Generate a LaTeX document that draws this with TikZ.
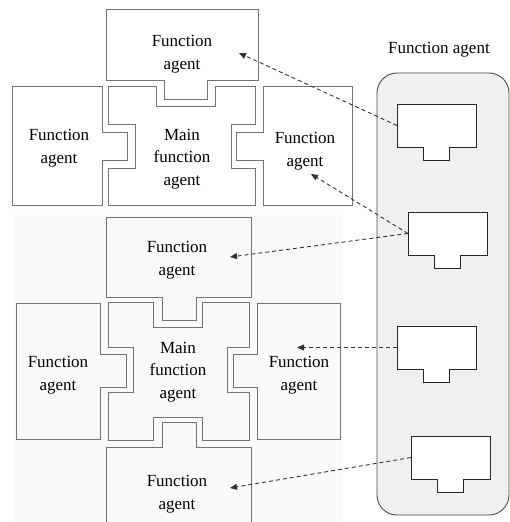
\documentclass[tikz,border=0pt]{standalone}
\usepackage{fontspec}
\setmainfont{Liberation Serif}
\usetikzlibrary{arrows.meta}
\begin{document}
\begin{tikzpicture}[x=1pt,y=-1pt,
  agentline/.style={draw=black!55, line width=0.9pt},
  lbl/.style={align=center, font=\fontsize{17}{22.5}\selectfont, inner sep=0pt},
  ministyle/.style={draw=black!85, line width=0.9pt, fill=white},
  link/.style={draw=black!80, line width=0.9pt, dash pattern=on 4pt off 3pt, -{Triangle[length=7pt,width=6pt]}},
  miniagent/.pic={
    \draw[ministyle] (0,0) -- (79,0) -- (79,43) -- (52,43) -- (52,56) -- (26,56) -- (26,43) -- (0,43) -- cycle;
    \coordinate (-w) at (0,21.5);
  }]
\clip (0,0) rectangle (510,522);
\useasboundingbox (0,0) rectangle (510,522);
\fill[white] (0,0) rectangle (510,522);
% faint background of the lower group
\fill[black!2] (13,215) rectangle (343,522);
% right panel
\draw[draw=black!70, line width=0.9pt, fill=black!6, rounded corners=20pt] (377,73) rectangle (509,515);
\node[lbl] (title) at (439,50) {Function agent};

% ---------- upper group ----------
\draw[agentline] (106,9) -- (258,9) -- (258,80) -- (207,80) -- (207,99) -- (164,99) -- (164,80) -- (106,80) -- cycle;
\draw[agentline] (108,86) -- (156,86) -- (156,106) -- (215,106) -- (215,86) -- (255,86) -- (255,124) -- (231,124) -- (231,168) -- (255,168) -- (255,205) -- (108,205) -- (108,168) -- (135,168) -- (135,124) -- (108,124) -- cycle;
\draw[agentline] (12,86) -- (102,86) -- (102,132) -- (127,132) -- (127,160) -- (102,160) -- (102,205) -- (12,205) -- cycle;
\draw[agentline] (263,86) -- (352,86) -- (352,205) -- (263,205) -- (263,160) -- (236,160) -- (236,132) -- (263,132) -- cycle;
\node[lbl] (ta1) at (182,54) {Function\\agent};
\node[lbl] (m1) at (182,159) {Main\\function\\agent};
\node[lbl] (la1) at (59,148) {Function\\agent};
\node[lbl] (ra1) at (305,151) {Function\\agent};

% ---------- lower group ----------
\draw[agentline] (106,217) -- (251,217) -- (251,297) -- (196,297) -- (196,320) -- (162,320) -- (162,297) -- (106,297) -- cycle;
\draw[agentline] (108,302) -- (153,302) -- (153,327) -- (202,327) -- (202,302) -- (249,302) -- (249,347) -- (227,347) -- (227,392) -- (249,392) -- (249,440) -- (202,440) -- (202,417) -- (153,417) -- (153,440) -- (108,440) -- (108,392) -- (133,392) -- (133,347) -- (108,347) -- cycle;
\draw[agentline] (16,303) -- (100,303) -- (100,354) -- (126,354) -- (126,387) -- (100,387) -- (100,439) -- (16,439) -- cycle;
\draw[agentline] (257,303) -- (340,303) -- (340,439) -- (257,439) -- (257,387) -- (233,387) -- (233,354) -- (257,354) -- cycle;
\draw[agentline] (106,530) -- (106,447) -- (162,447) -- (162,422) -- (196,422) -- (196,447) -- (251,447) -- (251,530);
\node[lbl] (ta2) at (177,260) {Function\\agent};
\node[lbl] (m2) at (178,372) {Main\\function\\agent};
\node[lbl] (la2) at (58,375) {Function\\agent};
\node[lbl] (ra2) at (299,375) {Function\\agent};
\node[lbl] (ba2) at (177,494) {Function\\agent};

% ---------- panel agents ----------
\pic (s1) at (397,104) {miniagent};
\pic (s2) at (408,212) {miniagent};
\pic (s3) at (397,326) {miniagent};
\pic (s4) at (411,436) {miniagent};

% ---------- arrow targets ----------
\coordinate (t1) at (239,53);
\coordinate (t2) at (311,174);
\coordinate (t3) at (230,257);
\coordinate (t4) at (297,347.5);
\coordinate (t5) at (230,488);

\draw[link] (s1-w) -- (t1);
\draw[link] (s2-w) -- (t2);
\draw[link] (s2-w) -- (t3);
\draw[link] (s3-w) -- (t4);
\draw[link] (s4-w) -- (t5);
\end{tikzpicture}
\end{document}
